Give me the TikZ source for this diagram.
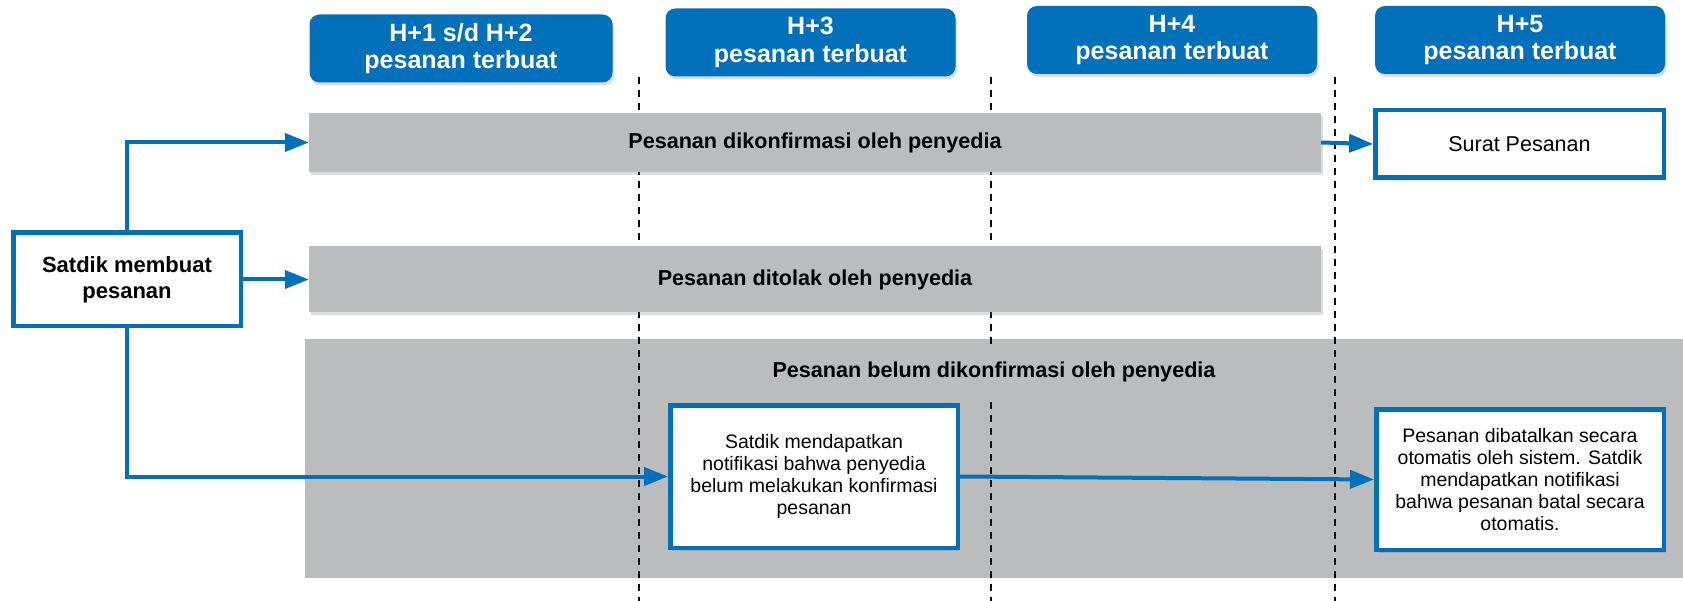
\documentclass[tikz,border=0pt]{standalone}
\usepackage{fontspec}
\setmainfont{Liberation Sans}
\usetikzlibrary{arrows.meta,shadows}
\definecolor{hdrblue}{RGB}{0,112,186}
\definecolor{bargray}{RGB}{187,188,190}
\begin{document}
\begin{tikzpicture}[x=1pt,y=-1pt,
  shd/.style={drop shadow={opacity=0.28,shadow xshift=1.5pt,shadow yshift=-3pt}},
  hdr/.style={shd, rounded corners=10pt, fill=hdrblue, text=white,
    font=\fontsize{25}{27.5}\selectfont\bfseries, align=center,
    minimum width=290pt, minimum height=68pt, inner sep=0pt},
  bar/.style={shd, fill=bargray, font=\fontsize{21.6}{25}\selectfont\bfseries,
    minimum width=1012pt, inner sep=0pt},
  wbox/.style={draw=hdrblue, line width=4.5pt, fill=white, align=center,
    inner sep=0pt, font=\fontsize{19.5}{22}\selectfont},
  conn/.style={draw=hdrblue, line width=4pt, -{Triangle[length=24pt,width=18pt]}},
  vdash/.style={draw=black, dash pattern=on 7pt off 6pt, line width=1.6pt}
]
\useasboundingbox (0,0) rectangle (1683,601);

% headers
\node[hdr, minimum width=303pt] (h1) at (461,48.5) {H+1 s/d H+2\\pesanan terbuat};
\node[hdr] (h3) at (810.5,42.5) {H+3\\pesanan terbuat};
\node[hdr] (h4) at (1172,40) {H+4\\pesanan terbuat};
\node[hdr] (h5) at (1520,40) {H+5\\pesanan terbuat};

% big region
\node[fill=bargray, minimum width=1378pt, minimum height=239pt, inner sep=0pt] (region) at (994,458.5) {};

% dashed day separators
\coordinate (d1t) at (639,77);  \coordinate (d1b) at (639,601);
\coordinate (d2t) at (991,77);  \coordinate (d2b) at (991,601);
\coordinate (d3t) at (1335,77); \coordinate (d3b) at (1335,601);
\draw[vdash] (d1t) -- (d1b);
\draw[vdash] (d2t) -- (d2b);
\draw[vdash] (d3t) -- (d3b);

% bars
\node[bar, minimum height=59pt] (bar1) at (815,142.5) {Pesanan dikonfirmasi oleh penyedia};
\node[bar, minimum height=66pt] (bar2) at (815,279.5) {Pesanan ditolak oleh penyedia};
\node[fill=bargray, font=\fontsize{21.6}{25}\selectfont\bfseries, minimum height=55pt, inner xsep=6pt, inner ysep=0pt] (title) at (994,372) {Pesanan belum dikonfirmasi oleh penyedia};

% boxes
\node[wbox, font=\fontsize{22}{26}\selectfont\bfseries, minimum width=227.5pt, minimum height=93.5pt] (sat) at (127,279.5) {Satdik membuat\\pesanan};
\node[wbox, font=\fontsize{21.5}{24}\selectfont, minimum width=288.5pt, minimum height=67.5pt] (surat) at (1519.5,144) {Surat Pesanan};
\node[wbox, shd, minimum width=287.5pt, minimum height=142.5pt] (notif) at (814,476.5) {Satdik mendapatkan\\notifikasi bahwa penyedia\\belum melakukan konfirmasi\\pesanan};
\node[wbox, shd, minimum width=287.5pt, minimum height=140.5pt] (cancel) at (1520,479.5) {Pesanan dibatalkan secara\\otomatis oleh sistem. Satdik\\mendapatkan notifikasi\\bahwa pesanan batal secara\\otomatis.};

% connectors
\draw[conn] (sat.north) |- (bar1.west);
\draw[conn] (sat.east) -- (bar2.west);
\draw[conn] (sat.south) |- (notif.west);
\draw[conn] (bar1.east) -- (surat.west);
\draw[conn] (notif.east) -- (cancel.west);
\end{tikzpicture}
\end{document}
